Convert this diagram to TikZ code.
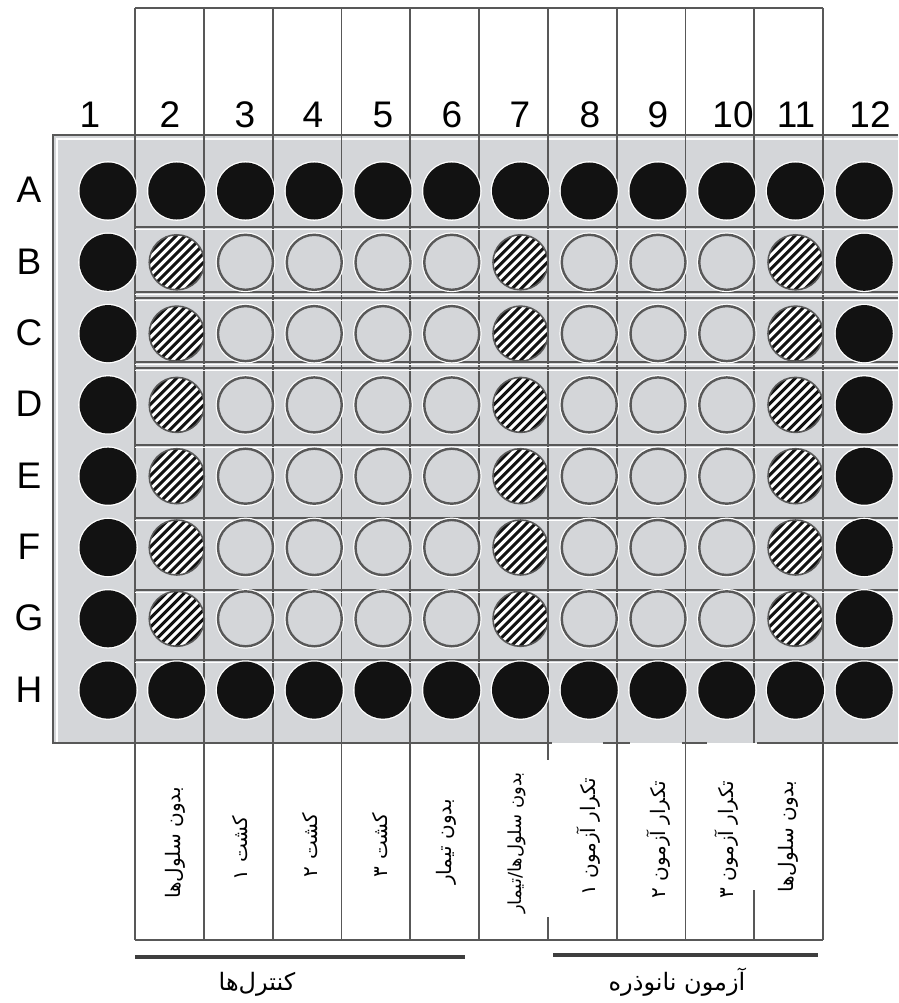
\documentclass[tikz,border=0pt]{standalone}
\usepackage{fontspec}
\setmainfont{Liberation Sans}
\newfontfamily\arabicfont[Script=Arabic]{DejaVu Sans}
\TeXXeTstate=1
\definecolor{plate}{RGB}{212,214,217}
\definecolor{edge}{RGB}{88,88,88}
\definecolor{ink}{RGB}{18,18,18}
\tikzset{
  edgeline/.style={draw=edge, line width=1.8pt},
  blackwell/.style={circle, minimum size=57pt, inner sep=0pt, fill=ink,
    preaction={draw=white, line width=2.6pt}},
  openwell/.style={circle, minimum size=55pt, inner sep=0pt, fill=plate,
    draw=edge, line width=2.4pt, preaction={draw=white, line width=4.8pt}},
  hatchwell/.style={circle, minimum size=55pt, inner sep=0pt, fill=white,
    draw=edge, line width=1.6pt,
    path picture={\foreach \k in {-72,-63,...,72}
      \draw[ink, line width=3pt]
        ([xshift=\k pt-45pt, yshift=-45pt]path picture bounding box.center) --
        ([xshift=\k pt+45pt, yshift=45pt]path picture bounding box.center);}},
  numlabel/.style={font=\fontsize{37}{40}\selectfont, anchor=base, inner sep=0pt},
  rowlabel/.style={font=\fontsize{37}{40}\selectfont, anchor=base, inner sep=0pt},
  collabel/.style={font=\arabicfont\fontsize{20}{24}\selectfont, rotate=90, inner sep=0pt},
  grouplabel/.style={font=\arabicfont\fontsize{24}{28}\selectfont, inner sep=0pt},
  groupbar/.style={draw=edge!70!black, line width=4pt}
}
\begin{document}
\begin{tikzpicture}[x=1pt, y=-1pt]
\useasboundingbox (0,0) rectangle (898,1003);
% plate
\fill[plate] (53,135) rectangle (898,743);
\draw[white, line width=1.2pt] (57,743) -- (57,139) -- (898,139);
\draw[edgeline] (898,135) -- (53,135) -- (53,743) -- (552,743);
\draw[edgeline] (603,743) -- (630,743);
\draw[edgeline] (682,743) -- (707,743);
\draw[edgeline] (757,743) -- (898,743);
% top strips
\draw[edgeline] (135,8) -- (823,8);
\draw[edgeline] (135,8) -- (135,940);
\draw[edgeline] (823,8) -- (823,940);
\foreach \j in {1,...,9}{
  \pgfmathsetmacro\vx{135+\j*68.8}
  \draw[edgeline] (\vx,8) -- (\vx,743);
}
% bottom strips
\foreach \j in {1,2,3,4,5,7,8}{
  \pgfmathsetmacro\vx{135+\j*68.8}
  \draw[edgeline] (\vx,743) -- (\vx,940);
}
\draw[edgeline] (547.8,743) -- (547.8,760);
\draw[edgeline] (547.8,917) -- (547.8,940);
\draw[edgeline] (754.2,890) -- (754.2,940);
\draw[edgeline] (135,940) -- (823,940);
% row separators
\foreach \hy in {227,292,298,362,368,445,518,590,660}{
  \draw[white, line width=1pt] (135,\hy+2.5) -- (898,\hy+2.5);
  \draw[edgeline] (135,\hy) -- (898,\hy);
}
% wells
\foreach \r [count=\ri] in {A,B,C,D,E,F,G,H}{
  \foreach \c in {1,...,12}{
    \pgfmathsetmacro\wx{108+(\c-1)*68.75}
    \pgfmathsetmacro\wy{191+(\ri-1)*71.3}
    \def\wstyle{openwell}
    \ifnum\c=2 \def\wstyle{hatchwell}\fi
    \ifnum\c=7 \def\wstyle{hatchwell}\fi
    \ifnum\c=11 \def\wstyle{hatchwell}\fi
    \ifnum\ri=1 \def\wstyle{blackwell}\fi
    \ifnum\ri=8 \def\wstyle{blackwell}\fi
    \ifnum\c=1 \def\wstyle{blackwell}\fi
    \ifnum\c=12 \def\wstyle{blackwell}\fi
    \edef\tmp{\noexpand\node[\wstyle] (w\r\c) at (\wx,\wy) {};}
    \tmp
  }
  \pgfmathsetmacro\ly{191+(\ri-1)*71.3+12}
  \node[rowlabel] (row\r) at (29,\ly) {\r};
}
% column numbers
\foreach \n/\nx in {1/90,2/170,3/245,4/313,5/383,6/452,7/520,8/590,9/658,10/733,11/796,12/870}{
  \node[numlabel] (num\n) at (\nx,128) {\n};
}
% column descriptions
\node[collabel] (d2) at (175,843) {\beginR بدون سلول^^^^200cها\endR};
\node[collabel] (d3) at (240,848) {\beginR کشت ۱\endR};
\node[collabel] (d4) at (310,845) {\beginR کشت ۲\endR};
\node[collabel] (d5) at (380,845) {\beginR کشت ۳\endR};
\node[collabel] (d6) at (446,842) {\beginR بدون تیمار\endR};
\node[collabel, font=\arabicfont\fontsize{18}{22}\selectfont] (d7) at (517,843) {\beginR بدون سلول^^^^200cها/تیمار\endR};
\node[collabel] (d8) at (589,837) {\beginR تکرار آزمون ۱\endR};
\node[collabel] (d9) at (659,840) {\beginR تکرار آزمون ۲\endR};
\node[collabel] (d10) at (727,840) {\beginR تکرار آزمون ۳\endR};
\node[collabel] (d11) at (788,837) {\beginR بدون سلول^^^^200cها\endR};
% groups
\coordinate (gA1) at (135,957);
\coordinate (gA2) at (465,957);
\coordinate (gB1) at (553,955);
\coordinate (gB2) at (818,955);
\draw[groupbar] (gA1) -- (gA2);
\draw[groupbar] (gB1) -- (gB2);
\node[grouplabel] (g1) at (257,984) {\beginR کنترل^^^^200cها\endR};
\node[grouplabel] (g2) at (677,982) {\beginR آزمون نانوذره\endR};
\end{tikzpicture}
\end{document}
